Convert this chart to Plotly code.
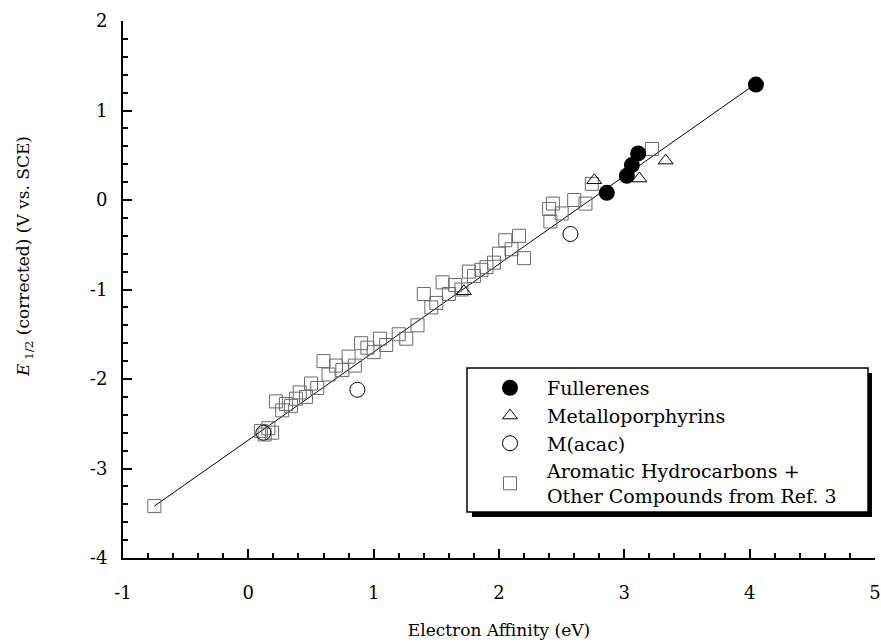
import plotly.graph_objects as go

# ---------------- data ----------------
fullerene_x = [4.05, 3.11, 3.06, 3.02, 2.86]
fullerene_y = [1.29, 0.52, 0.39, 0.27, 0.08]

porph_x = [3.33, 3.12, 2.76, 1.72]
porph_y = [0.44, 0.24, 0.22, -1.02]

acac_x = [0.87, 2.57, 0.12]
acac_y = [-2.12, -0.38, -2.60]

arom_x = [-0.75, 0.10, 0.13, 0.16, 0.19, 0.22, 0.27, 0.30, 0.34, 0.38, 0.41,
          0.46, 0.50, 0.55, 0.60, 0.64, 0.70, 0.75, 0.80, 0.85, 0.90, 0.95,
          1.00, 1.05, 1.10, 1.20, 1.26, 1.35, 1.40, 1.46, 1.50, 1.55, 1.60,
          1.65, 1.70, 1.76, 1.80, 1.86, 1.90, 1.96, 2.00, 2.05, 2.10, 2.16,
          2.20, 2.40, 2.43, 2.41, 2.50, 2.60, 2.69, 2.74, 3.22]
arom_y = [-3.42, -2.58, -2.62, -2.55, -2.60, -2.25, -2.35, -2.28, -2.30,
          -2.22, -2.15, -2.20, -2.05, -2.10, -1.80, -1.95, -1.85, -1.90,
          -1.75, -1.85, -1.60, -1.65, -1.70, -1.55, -1.62, -1.50, -1.55,
          -1.40, -1.05, -1.20, -1.15, -0.92, -1.05, -0.95, -1.00, -0.80,
          -0.85, -0.78, -0.75, -0.70, -0.60, -0.45, -0.55, -0.40, -0.65,
          -0.10, -0.04, -0.24, -0.15, 0.00, -0.04, 0.18, 0.57]

fit_x = [-0.75, 4.05]
fit_y = [-3.42, 1.30]

x_ticks = [-1, 0, 1, 2, 3, 4, 5]
x_labels = ["-1", "0", "1", "2", "3", "4", "5"]
y_ticks = [-4, -3, -2, -1, 0, 1, 2]
y_labels = ["-4", "-3", "-2", "-1", "0", "1", "2"]

FONT = "DejaVu Serif"

fig = go.Figure()

fig.add_trace(go.Scatter(x=fit_x, y=fit_y, mode="lines",
                         line=dict(color="black", width=1), showlegend=False,
                         hoverinfo="skip"))

fig.add_trace(go.Scatter(x=arom_x, y=arom_y, mode="markers",
                         name="Aromatic Hydrocarbons +<br>Other Compounds from Ref. 3",
                         marker=dict(symbol="square-open", size=13, color="#6a6a6a",
                                     line=dict(width=1))))
fig.add_trace(go.Scatter(x=acac_x, y=acac_y, mode="markers", name="M(acac)",
                         marker=dict(symbol="circle-open", size=15, color="black",
                                     line=dict(width=1))))
fig.add_trace(go.Scatter(x=porph_x, y=porph_y, mode="markers", name="Metalloporphyrins",
                         marker=dict(symbol="triangle-up-open", size=13, color="black",
                                     line=dict(width=1))))
fig.add_trace(go.Scatter(x=fullerene_x, y=fullerene_y, mode="markers", name="Fullerenes",
                         marker=dict(symbol="circle", size=16, color="black")))

# layout geometry (pixels)
W, H = 881, 644
ML, MR, MT, MB = 123, 6, 21, 86
pw, ph = W - ML - MR, H - MT - MB


def px(xp):
    return (xp - ML) / pw


def py(yp):
    return (H - MB - yp) / ph


# legend box with drop shadow
fig.add_shape(type="rect", xref="paper", yref="paper",
              x0=px(472), x1=px(872), y0=py(517), y1=py(373),
              fillcolor="black", line=dict(width=0), layer="above")
fig.add_shape(type="rect", xref="paper", yref="paper",
              x0=px(467), x1=px(868), y0=py(512), y1=py(368),
              fillcolor="white", line=dict(color="black", width=1.5), layer="above")

# y-axis title
fig.add_annotation(text="<i>E</i><sub> 1/2</sub> (corrected) (V vs. SCE)",
                   xref="paper", yref="paper", x=px(24), y=py(257),
                   xanchor="center", yanchor="middle", textangle=-90,
                   showarrow=False, font=dict(family=FONT, size=17, color="black"))

axis_common = dict(showgrid=False, zeroline=False, showline=True, linecolor="black",
                   linewidth=2, ticks="inside", tickcolor="black", tickwidth=2,
                   ticklen=9, mirror=False,
                   minor=dict(ticks="inside", ticklen=5, tickwidth=1.5,
                              tickcolor="black", dtick=0.2, showgrid=False),
                   tickfont=dict(family=FONT, size=18, color="black"))

fig.update_layout(
    width=W, height=H,
    margin=dict(l=ML, r=MR, t=MT, b=MB, autoexpand=False),
    paper_bgcolor="white", plot_bgcolor="white",
    font=dict(family=FONT, color="black"),
    xaxis=dict(range=[-1, 5], tickvals=x_ticks, ticktext=x_labels, ticklabelstandoff=17,
               title=dict(text="Electron Affinity (eV)", font=dict(family=FONT, size=17),
                          standoff=23),
               **axis_common),
    yaxis=dict(range=[-4, 2], tickvals=y_ticks, ticktext=y_labels, ticklabelstandoff=10,
               **axis_common),
    legend=dict(x=px(473), y=py(369), xanchor="left", yanchor="top",
                bgcolor="rgba(0,0,0,0)", borderwidth=0, itemwidth=64,
                traceorder="reversed", tracegroupgap=0,
                font=dict(family=FONT, size=19, color="black")),
)

fig.write_html("out.html")
